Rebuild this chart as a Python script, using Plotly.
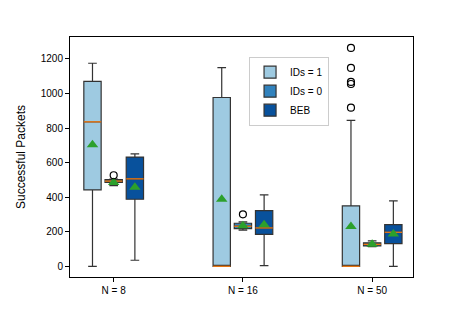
import plotly.graph_objects as go

groups = ["N = 8", "N = 16", "N = 50"]
group_pos = [1, 2, 3]
series = ["IDs = 1", "IDs = 0", "BEB"]
colors = ["#9ecae1", "#3182bd", "#08519c"]
offsets = [-0.164, 0.0, 0.164]

# stats per series, per group
q1 = {"IDs = 1": [442, 0, 0], "IDs = 0": [485, 218, 118], "BEB": [388, 185, 131]}
med = {"IDs = 1": [836, 0, 0], "IDs = 0": [493, 232, 127], "BEB": [506, 222, 197]}
q3 = {"IDs = 1": [1070, 977, 350], "IDs = 0": [502, 249, 136], "BEB": [632, 322, 241]}
lo = {"IDs = 1": [0, 0, 0], "IDs = 0": [467, 209, 114], "BEB": [35, 4, 0]}
hi = {"IDs = 1": [1175, 1150, 844], "IDs = 0": [504, 257, 147], "BEB": [651, 413, 378]}
mean = {"IDs = 1": [703, 388, 230], "IDs = 0": [485, 234, 128], "BEB": [458, 240, 187]}
outliers = {
    "IDs = 1": [[], [], [1264, 1148, 1067, 1055, 918]],
    "IDs = 0": [[527], [301], []],
    "BEB": [[], [], []],
}

box_w = 0.134
fig = go.Figure()
for s, c, off in zip(series, colors, offsets):
    xs = [g + off for g in group_pos]
    fig.add_trace(go.Box(
        x=xs, q1=q1[s], median=med[s], q3=q3[s],
        lowerfence=lo[s], upperfence=hi[s],
        width=box_w, fillcolor=c, name=s,
        line=dict(color="#333333", width=1.2),
        whiskerwidth=0.5, boxpoints=False, showlegend=True,
    ))
for s, off in zip(series, offsets):
    mx, my = [], []
    for g, m in zip(group_pos, med[s]):
        mx += [g + off - box_w / 2, g + off + box_w / 2, None]
        my += [m, m, None]
    fig.add_trace(go.Scatter(x=mx, y=my, mode="lines",
                             line=dict(color="#ff7f0e", width=1.2),
                             showlegend=False, hoverinfo="skip"))
    fig.add_trace(go.Scatter(x=[g + off for g in group_pos], y=mean[s], mode="markers",
                             marker=dict(symbol="triangle-up", size=10, color="#2ca02c"),
                             showlegend=False))
    ox, oy = [], []
    for g, ol in zip(group_pos, outliers[s]):
        ox += [g + off] * len(ol)
        oy += ol
    if ox:
        fig.add_trace(go.Scatter(x=ox, y=oy, mode="markers",
                                 marker=dict(symbol="circle-open", size=7, color="black",
                                             line=dict(width=1.2)),
                                 showlegend=False))

fig.update_layout(
    width=453, height=309,
    margin=dict(l=49, r=48, t=29, b=40),
    paper_bgcolor="white", plot_bgcolor="white",
    font=dict(family="Liberation Sans, Arial, sans-serif", size=10, color="black"),
    boxmode="overlay",
    legend=dict(x=0.522, y=0.918, xanchor="left", yanchor="top",
                bordercolor="#cccccc", borderwidth=1, bgcolor="white",
                font=dict(size=10), itemwidth=30),
)
fig.update_xaxes(range=[0.662, 3.316], tickvals=group_pos, ticktext=groups,
                 showgrid=False, zeroline=False, showline=True, linecolor="black",
                 linewidth=1, mirror=True, ticks="outside", ticklen=4, tickcolor="black")
fig.update_yaxes(range=[-62, 1327], tickvals=[0, 200, 400, 600, 800, 1000, 1200],
                 title=dict(text="Successful Packets", standoff=12),
                 showgrid=False, zeroline=False, showline=True, linecolor="black",
                 linewidth=1, mirror=True, ticks="outside", ticklen=4, tickcolor="black")
fig.write_html("out.html")
